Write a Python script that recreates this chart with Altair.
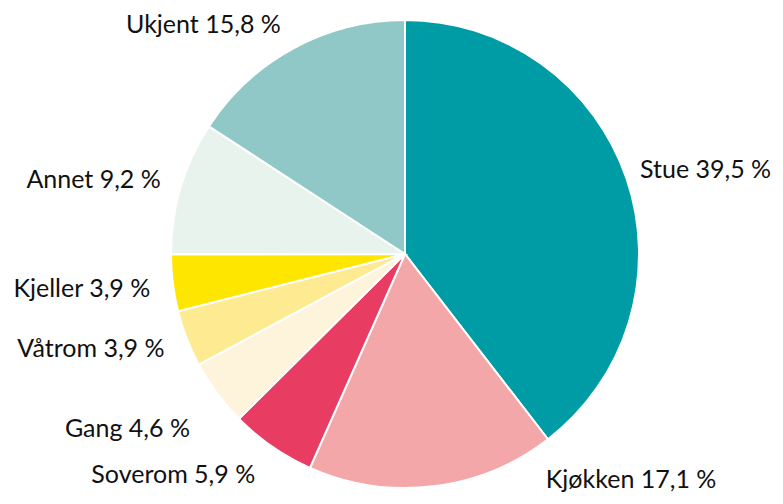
import altair as alt
import pandas as pd

# Data (clockwise from top)
rooms = ["Stue", "Kjøkken", "Soverom", "Gang", "Våtrom", "Kjeller", "Annet", "Ukjent"]
shares = [39.5, 17.1, 5.9, 4.6, 3.9, 3.9, 9.2, 15.8]
labels = ["Stue 39,5 %", "Kjøkken 17,1 %", "Soverom 5,9 %", "Gang 4,6 %",
          "Våtrom 3,9 %", "Kjeller 3,9 %", "Annet 9,2 %", "Ukjent 15,8 %"]
colors = ["#009ca6", "#f4a7a9", "#e83c63", "#fef4dc",
          "#fdea91", "#ffe600", "#e9f3ed", "#8fc8c6"]

# Layout: label angle nudge (degrees) and label distance from the centre (px)
label_nudge = [3.3, -38.1, 11.8, 4.3, 4.4, 1.0, -3.2, -12.9]
label_dist = [312, 320, 320, 328, 328, 325, 320, 305]

W, H = 720, 480
R = 234

df = pd.DataFrame({
    "room": rooms, "share": shares, "label": labels,
    "order": list(range(len(rooms))),
    "nudge": label_nudge, "dist": label_dist,
})

base = alt.Chart(df)

pie = base.mark_arc(radius=R, stroke="white", strokeWidth=2).encode(
    theta=alt.Theta("share:Q", stack=True),
    order=alt.Order("order:Q"),
    color=alt.Color("room:N", scale=alt.Scale(domain=rooms, range=colors), legend=None),
)

text = base.transform_joinaggregate(
    total="sum(share)"
).transform_window(
    cum="sum(share)", sort=[alt.SortField("order")]
).transform_calculate(
    ang="((datum.cum - datum.share/2) / datum.total) * 2 * PI + datum.nudge * PI / 180",
    px=f"{W/2} + datum.dist * sin(datum.ang)",
    py=f"{H/2} - datum.dist * cos(datum.ang)",
).mark_text(font="Lato", fontSize=25, color="#111111", align="center", baseline="middle").encode(
    x=alt.X("px:Q", scale=None),
    y=alt.Y("py:Q", scale=None),
    text="label:N",
)

chart = (pie + text).properties(
    width=W, height=H,
    autosize=alt.AutoSizeParams(type="none"),
    padding={"left": 37, "top": 6, "right": 10, "bottom": 2},
).configure_view(stroke=None)

chart.save("out.html", embed_options={"renderer": "svg", "actions": False})
